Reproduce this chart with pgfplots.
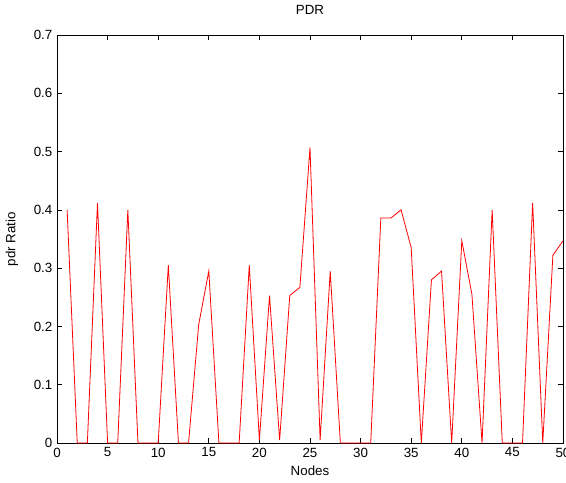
\documentclass[border=0pt]{standalone}
\usepackage{fontspec}
\setmainfont{Liberation Sans}
\usepackage{pgfplots}
\pgfplotsset{compat=1.18}
\usetikzlibrary{calc}

\begin{document}
\begin{tikzpicture}
\begin{axis}[name=ax, scale only axis, width=379.5pt, height=306pt,
    xmin=0, xmax=50, ymin=0, ymax=0.7,
    xtick={0,5,...,50}, ytick={0,0.1,...,0.7},
    yticklabel style={/pgf/number format/.cd, fixed, precision=1},
    /pgf/number format/assume math mode=true,
    tick label style={font=\fontsize{10}{12}\selectfont},
    tick align=inside, major tick length=4pt,
    axis line style={black, line width=0.5pt},
    tick style={black, line width=0.5pt},
    title={PDR}, title style={font=\fontsize{10}{12}\selectfont, at={(axis description cs:0.5,1)}, anchor=base, yshift=9pt},
    xlabel={Nodes}, xlabel style={font=\fontsize{10}{12}\selectfont, at={(axis description cs:0.5,0)}, anchor=base, yshift=-24.5pt},
    ylabel={pdr Ratio}, ylabel style={font=\fontsize{10}{12}\selectfont, at={(axis description cs:-0.089,0.5)}, anchor=center},
    clip=false]
\addplot[red, line width=0.6pt, mark=none] coordinates {
(1,0.40) (2,0) (3,0) (4,0.412) (5,0) (6,0) (7,0.40) (8,0) (9,0) (10,0)
(11,0.305) (12,0) (13,0) (14,0.203) (15,0.295) (16,0) (17,0) (18,0) (19,0.305) (20,0.005)
(21,0.253) (22,0.005) (23,0.253) (24,0.267) (25,0.507) (26,0.005) (27,0.295) (28,0) (29,0) (30,0)
(31,0) (32,0.386) (33,0.386) (34,0.40) (35,0.335) (36,0) (37,0.28) (38,0.295) (39,0) (40,0.347)
(41,0.255) (42,0) (43,0.40) (44,0) (45,0) (46,0) (47,0.412) (48,0) (49,0.322) (50,0.347)
};
\end{axis}
\pgfresetboundingbox
\useasboundingbox ($(ax.south west)+(-42.75pt,-30pt)$) rectangle ($(ax.north east)+(2.25pt,26.25pt)$);
\end{tikzpicture}
\end{document}
